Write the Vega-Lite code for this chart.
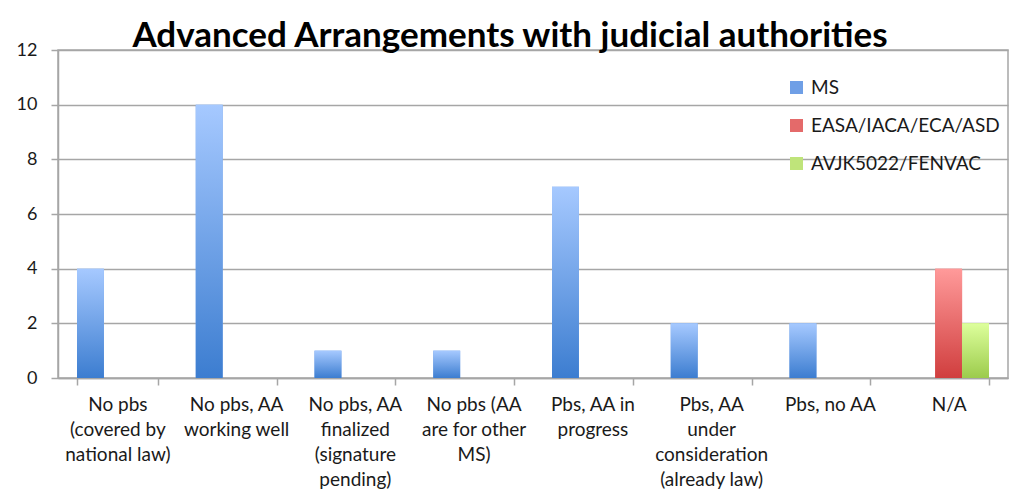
{
  "$schema": "https://vega.github.io/schema/vega-lite/v6.json",
  "width": 950,
  "height": 328,
  "autosize": {"type": "none"},
  "padding": {"left": 58, "top": 50, "right": 2, "bottom": 117},
  "background": "white",
  "config": {
    "font": "Lato",
    "view": {"stroke": "#a6a6a6", "strokeWidth": 1.5}
  },
  "title": {
    "text": "Advanced Arrangements with judicial authorities",
    "font": "Lato",
    "fontSize": 35,
    "fontWeight": "bold",
    "color": "#000000",
    "anchor": "middle",
    "dx": -23,
    "baseline": "alphabetic",
    "offset": -41
  },
  "data": {
    "values": [
      {"category": "No pbs\n(covered by\nnational law)", "series": "MS", "value": 4},
      {"category": "No pbs\n(covered by\nnational law)", "series": "EASA/IACA/ECA/ASD", "value": 0},
      {"category": "No pbs\n(covered by\nnational law)", "series": "AVJK5022/FENVAC", "value": 0},
      {"category": "No pbs, AA\nworking well", "series": "MS", "value": 10},
      {"category": "No pbs, AA\nworking well", "series": "EASA/IACA/ECA/ASD", "value": 0},
      {"category": "No pbs, AA\nworking well", "series": "AVJK5022/FENVAC", "value": 0},
      {"category": "No pbs, AA\nfinalized\n(signature\npending)", "series": "MS", "value": 1},
      {"category": "No pbs, AA\nfinalized\n(signature\npending)", "series": "EASA/IACA/ECA/ASD", "value": 0},
      {"category": "No pbs, AA\nfinalized\n(signature\npending)", "series": "AVJK5022/FENVAC", "value": 0},
      {"category": "No pbs (AA\nare for other\nMS)", "series": "MS", "value": 1},
      {"category": "No pbs (AA\nare for other\nMS)", "series": "EASA/IACA/ECA/ASD", "value": 0},
      {"category": "No pbs (AA\nare for other\nMS)", "series": "AVJK5022/FENVAC", "value": 0},
      {"category": "Pbs, AA in\nprogress", "series": "MS", "value": 7},
      {"category": "Pbs, AA in\nprogress", "series": "EASA/IACA/ECA/ASD", "value": 0},
      {"category": "Pbs, AA in\nprogress", "series": "AVJK5022/FENVAC", "value": 0},
      {"category": "Pbs, AA\nunder\nconsideration\n(already law)", "series": "MS", "value": 2},
      {"category": "Pbs, AA\nunder\nconsideration\n(already law)", "series": "EASA/IACA/ECA/ASD", "value": 0},
      {"category": "Pbs, AA\nunder\nconsideration\n(already law)", "series": "AVJK5022/FENVAC", "value": 0},
      {"category": "Pbs, no AA", "series": "MS", "value": 2},
      {"category": "Pbs, no AA", "series": "EASA/IACA/ECA/ASD", "value": 0},
      {"category": "Pbs, no AA", "series": "AVJK5022/FENVAC", "value": 0},
      {"category": "N/A", "series": "MS", "value": 0},
      {"category": "N/A", "series": "EASA/IACA/ECA/ASD", "value": 4},
      {"category": "N/A", "series": "AVJK5022/FENVAC", "value": 2}
    ]
  },
  "encoding": {
    "x": {
      "field": "category",
      "type": "nominal",
      "sort": null,
      "scale": {"paddingInner": 0.32, "paddingOuter": 0.16},
      "axis": {
        "title": null,
        "labelAngle": 0,
        "tickBand": "extent",
        "tickSize": 7,
        "tickColor": "#a6a6a6",
        "tickWidth": 1.5,
        "domainColor": "#a6a6a6",
        "domainWidth": 1.5,
        "labelExpr": "split(datum.label, '\\n')",
        "labelLineHeight": 25,
        "labelFontSize": 19,
        "labelColor": "#1a1a1a",
        "labelPadding": 10,
        "labelLimit": 200,
        "grid": false
      }
    },
    "xOffset": {
      "field": "series",
      "type": "nominal",
      "sort": ["MS", "EASA/IACA/ECA/ASD", "AVJK5022/FENVAC"],
      "scale": {"paddingInner": 0, "paddingOuter": 0}
    },
    "y": {
      "field": "value",
      "type": "quantitative",
      "scale": {"domain": [0, 12]},
      "axis": {
        "title": null,
        "values": [0, 2, 4, 6, 8, 10, 12],
        "tickSize": 7,
        "tickColor": "#a6a6a6",
        "tickWidth": 1.5,
        "labelPadding": 14,
        "labelFontSize": 18,
        "labelColor": "#1a1a1a",
        "gridColor": "#a6a6a6",
        "gridWidth": 1.5,
        "domainColor": "#a6a6a6",
        "domainWidth": 1.5
      }
    }
  },
  "layer": [
    {
      "mark": {"type": "bar"},
      "encoding": {
        "color": {
          "field": "series",
          "type": "nominal",
          "sort": ["MS", "EASA/IACA/ECA/ASD", "AVJK5022/FENVAC"],
          "scale": {
            "domain": ["MS", "EASA/IACA/ECA/ASD", "AVJK5022/FENVAC"],
            "range": ["#6f9fe6", "#e46a6a", "#bfe47a"]
          },
          "legend": {
            "orient": "none",
            "legendX": 729,
            "legendY": 28,
            "title": null,
            "symbolType": "square",
            "symbolSize": 169,
            "symbolStrokeWidth": 0,
            "labelFontSize": 19,
            "labelColor": "#1a1a1a",
            "labelOffset": 5,
            "labelLimit": 300,
            "rowPadding": 18
          }
        }
      }
    },
    {
      "transform": [{"filter": "datum.series === 'MS'"}],
      "mark": {
        "type": "bar",
        "color": {
          "gradient": "linear", "x1": 0, "y1": 0, "x2": 0, "y2": 1,
          "stops": [{"offset": 0, "color": "#a6c9ff"}, {"offset": 1, "color": "#3c7dd0"}]
        }
      }
    },
    {
      "transform": [{"filter": "datum.series === 'EASA/IACA/ECA/ASD'"}],
      "mark": {
        "type": "bar",
        "color": {
          "gradient": "linear", "x1": 0, "y1": 0, "x2": 0, "y2": 1,
          "stops": [{"offset": 0, "color": "#ff9a9a"}, {"offset": 1, "color": "#d03e3e"}]
        }
      }
    },
    {
      "transform": [{"filter": "datum.series === 'AVJK5022/FENVAC'"}],
      "mark": {
        "type": "bar",
        "color": {
          "gradient": "linear", "x1": 0, "y1": 0, "x2": 0, "y2": 1,
          "stops": [{"offset": 0, "color": "#ddff9c"}, {"offset": 1, "color": "#9ccb4c"}]
        }
      }
    }
  ]
}
